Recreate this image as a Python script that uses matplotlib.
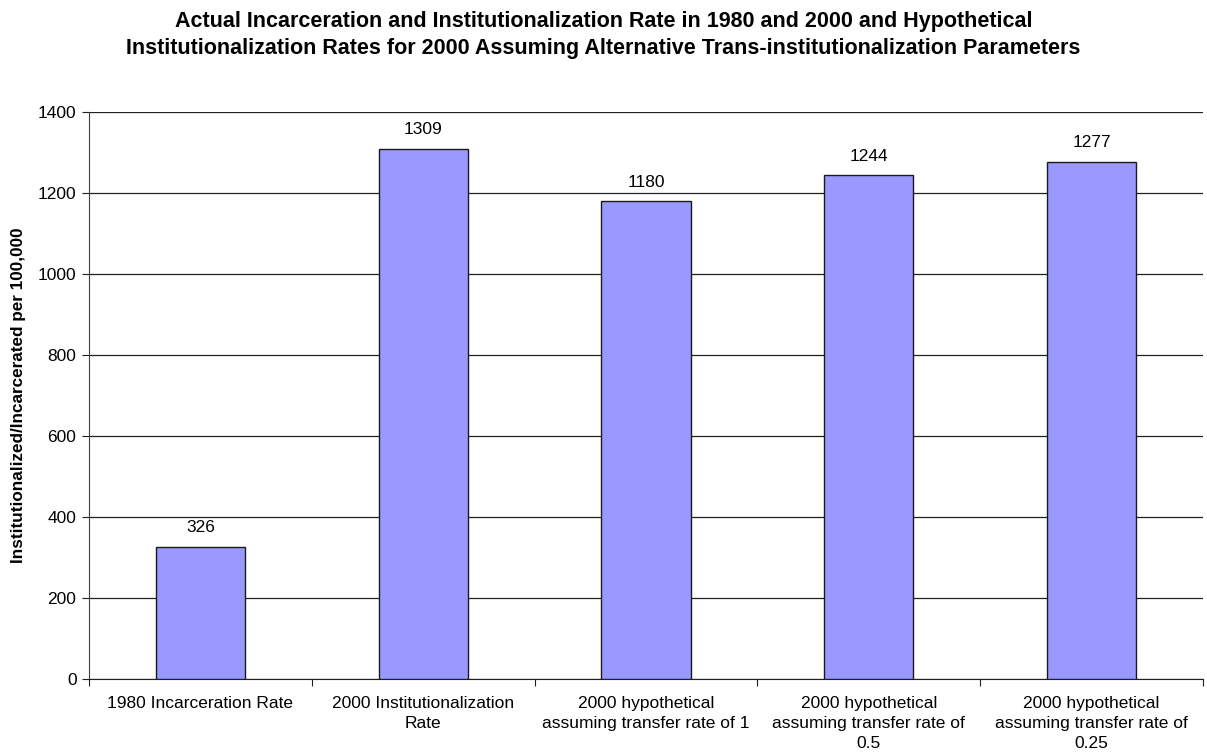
import matplotlib.pyplot as plt
import numpy as np

plt.rcParams['font.family'] = ['Liberation Sans', 'DejaVu Sans']

categories = [
    "1980 Incarceration Rate",
    "2000 Institutionalization\nRate",
    "2000 hypothetical\nassuming transfer rate of 1",
    "2000 hypothetical\nassuming transfer rate of\n0.5",
    "2000 hypothetical\nassuming transfer rate of\n0.25",
]
rates = [326, 1309, 1180, 1244, 1277]

fig = plt.figure(figsize=(12.07, 7.55), dpi=100)
ax = fig.add_axes([89 / 1207, 1 - 679 / 755, 1114 / 1207, 567 / 755])

x = np.arange(len(rates))
bars = ax.bar(x, rates, width=0.4, color="#9999FF", edgecolor="#1a1a1a",
              linewidth=1.0, zorder=3)
for b, v in zip(bars, rates):
    ax.text(b.get_x() + b.get_width() / 2, v + 47, str(v),
            ha="center", va="center", fontsize=12.5)

ax.set_xlim(-0.5, len(rates) - 0.5)
ax.set_ylim(0, 1400)
ax.set_yticks(np.arange(0, 1401, 200))
ax.yaxis.grid(True, color="#202020", linewidth=0.9, zorder=0)

# category boundaries carry the x ticks; labels sit in the middle
ax.set_xticks(np.arange(-0.5, len(rates)), minor=False)
ax.set_xticklabels([])
ax.set_xticks(x, minor=True)
ax.set_xticklabels(categories, minor=True, fontsize=12.5, linespacing=1.42)
ax.tick_params(axis="x", which="minor", length=0, pad=12)
ax.tick_params(axis="x", which="major", length=5, direction="out", color="#202020")
ax.tick_params(axis="y", length=5, direction="out", labelsize=12.5, color="#202020",
               pad=4)

for side in ["top", "right"]:
    ax.spines[side].set_visible(False)
ax.spines["left"].set_color("#404040")
ax.spines["bottom"].set_color("#202020")

ax.set_ylabel("Institutionalized/Incarcerated per 100,000", fontsize=12.3,
              fontweight="bold")
ax.yaxis.set_label_coords(-0.0566, 0.5)

fig.text(0.5, 1 - 35 / 755,
         "Actual Incarceration and Institutionalization Rate in 1980 and 2000 and Hypothetical\n"
         "Institutionalization Rates for 2000 Assuming Alternative Trans-institutionalization Parameters",
         ha="center", va="center", fontsize=15.5, fontweight="bold", linespacing=1.35)

fig.savefig("out.png", dpi=100)
